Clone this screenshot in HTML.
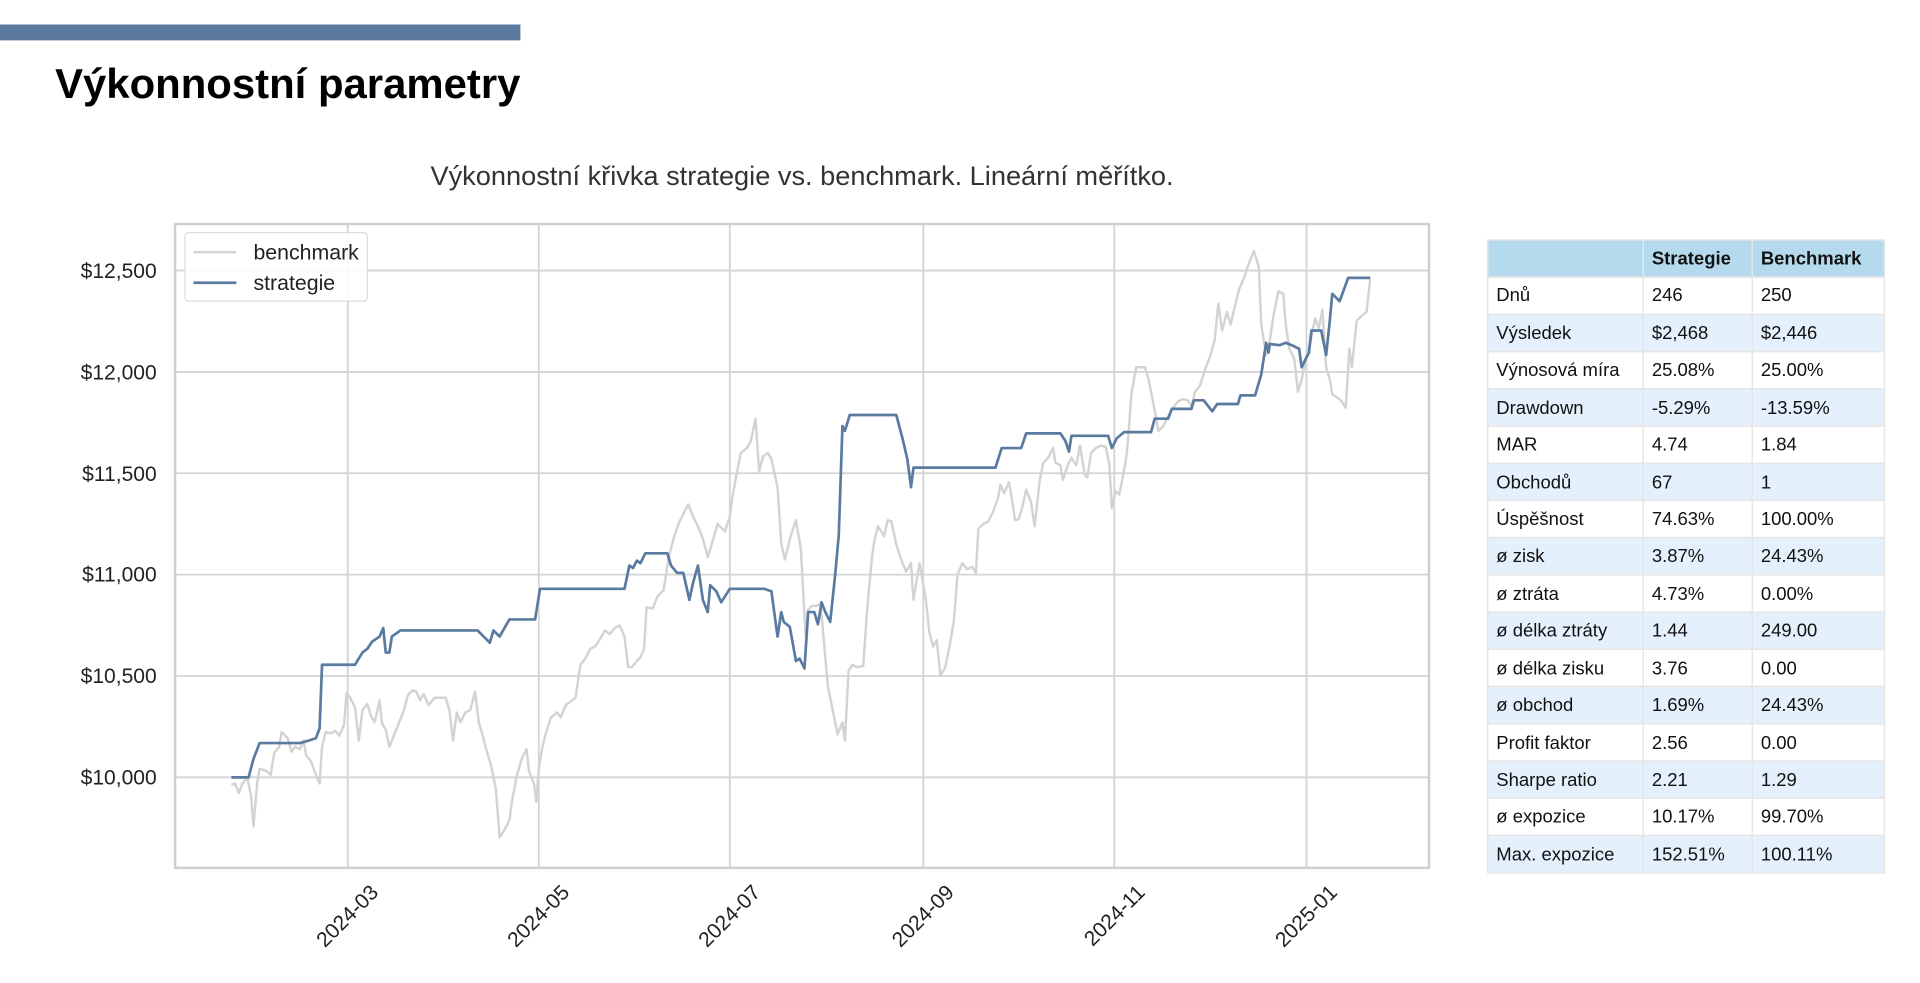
<!DOCTYPE html>
<html><head><meta charset="utf-8"><style>
html,body{margin:0;padding:0;background:#fff;width:1920px;height:983px;overflow:hidden}
svg{display:block}
text{font-family:"Liberation Sans",Arial,sans-serif}
</style></head><body>
<svg width="1920" height="983" viewBox="0 0 1568 803" preserveAspectRatio="none" xmlns="http://www.w3.org/2000/svg">
<rect x="0" y="20" width="425" height="13" fill="#5b7a9d"/>
<text x="45" y="80" font-size="34.2" font-weight="bold" fill="#000">Výkonnostní parametry</text>
<text x="655" y="151" font-size="22.2" fill="#333" text-anchor="middle">Výkonnostní křivka strategie vs. benchmark. Lineární měřítko.</text>
<g stroke="#d4d4d4" stroke-width="1.5">
<line x1="143" x2="1167" y1="221" y2="221"/><line x1="143" x2="1167" y1="303.8" y2="303.8"/><line x1="143" x2="1167" y1="386.6" y2="386.6"/><line x1="143" x2="1167" y1="469.4" y2="469.4"/><line x1="143" x2="1167" y1="552.2" y2="552.2"/><line x1="143" x2="1167" y1="635" y2="635"/>
<line y1="183" y2="709" x1="284" x2="284"/><line y1="183" y2="709" x1="440" x2="440"/><line y1="183" y2="709" x1="596" x2="596"/><line y1="183" y2="709" x1="754" x2="754"/><line y1="183" y2="709" x1="910" x2="910"/><line y1="183" y2="709" x1="1067" x2="1067"/>
</g>
<rect x="143" y="183" width="1024" height="526" fill="none" stroke="#cfcfcf" stroke-width="2"/>
<g font-size="17.2" fill="#222" text-anchor="end">
<text x="128" y="227">$12,500</text><text x="128" y="310">$12,000</text><text x="128" y="393">$11,500</text><text x="128" y="475">$11,000</text><text x="128" y="558">$10,500</text><text x="128" y="641">$10,000</text>
</g>
<g font-size="17.2" fill="#222" text-anchor="end">
<text transform="translate(310,730) rotate(-45)">2024-03</text>
<text transform="translate(466,730) rotate(-45)">2024-05</text>
<text transform="translate(622,730) rotate(-45)">2024-07</text>
<text transform="translate(780,730) rotate(-45)">2024-09</text>
<text transform="translate(936,730) rotate(-45)">2024-11</text>
<text transform="translate(1093,730) rotate(-45)">2025-01</text>
</g>
<polyline fill="none" stroke="#d3d3d3" stroke-width="2" stroke-linejoin="round" points="189,641 192,640 195,648 198,640 202,635 205,650 207,675 210,640 212,628 218,630 221,633 224,615 228,610 230,598 235,603 238,614 241,610 245,612 248,605 250,617 254,622 258,633 261,640 263,610 266,598 270,599 274,597 277,601 281,592 283,566 286,570 290,578 293,605 296,580 300,575 303,585 306,590 310,572 312,591 315,596 318,610 322,600 326,590 330,580 333,568 337,564 340,565 343,572 346,567 350,576 355,570 360,570 364,570 367,580 370,605 373,582 376,590 380,582 384,580 388,565 391,590 394,600 397,612 401,625 405,645 408,684 412,678 416,670 418,655 422,634 426,620 430,612 432,630 436,640 438,655 440,628 443,610 446,598 450,586 455,582 458,586 462,576 466,573 470,570 474,543 478,538 482,530 486,528 490,522 494,515 498,518 502,513 506,511 510,520 513,545 516,545 520,540 523,537 526,530 528,496 533,497 537,487 542,482 546,456 550,440 554,428 558,420 562,412 566,422 570,430 574,440 578,455 582,442 586,428 592,434 596,422 598,407 601,390 605,370 610,366 613,361 617,342 620,385 623,373 627,370 630,375 635,398 638,444 641,457 646,437 650,425 654,448 658,520 660,498 663,495 667,495 670,493 673,525 676,560 680,580 684,600 688,590 690,605 693,548 696,543 700,545 705,544 708,500 712,456 714,442 717,430 722,438 725,425 728,426 732,445 737,460 740,467 744,460 746,490 751,460 756,489 759,517 762,528 765,523 768,552 772,545 776,525 779,507 782,469 786,460 790,465 794,463 797,468 799,432 803,428 807,426 811,418 815,407 817,396 820,403 824,394 826,405 829,425 832,424 835,414 838,400 842,410 845,430 849,393 852,378 856,374 860,366 862,378 866,380 868,392 872,380 875,374 879,380 882,364 886,388 888,390 891,370 895,366 899,364 903,365 906,380 908,415 911,401 914,404 917,390 920,372 922,350 924,321 928,300 935,300 938,310 942,330 946,352 950,348 954,340 958,333 962,328 966,326 970,327 973,332 976,320 980,315 984,302 988,292 992,278 995,248 998,270 1002,255 1005,265 1009,248 1012,236 1016,227 1020,215 1024,205 1028,218 1030,265 1034,290 1037,278 1040,258 1044,238 1048,240 1050,265 1053,285 1057,293 1060,320 1063,310 1067,290 1070,280 1074,260 1077,268 1080,253 1083,300 1086,310 1088,322 1091,324 1095,327 1099,333 1102,285 1104,300 1108,262 1112,258 1116,255 1119,228"/>
<polyline fill="none" stroke="#5a7aa0" stroke-width="2.2" stroke-linejoin="round" points="189,635 203,635 207,620 212,607 245,607 252,605 258,603 261,595 263,543 290,543 296,533 300,530 304,524 310,520 313,513 315,533 318,533 320,520 327,515 390,515 397,522 400,525 403,515 408,520 416,506 437,506 441,481 510,481 514,462 517,464 520,458 523,460 527,452 545,452 548,462 553,468 558,468 563,490 566,476 570,462 574,490 578,500 580,478 585,483 589,492 596,481 624,481 630,483 635,520 638,500 640,508 645,512 650,540 653,538 657,546 660,500 665,500 668,510 671,492 674,500 678,508 682,470 685,437 688,348 690,352 694,339 732,339 737,358 741,375 744,398 746,382 813,382 818,366 834,366 838,354 866,354 870,360 873,369 875,356 905,356 908,366 912,358 918,353 940,353 943,342 954,342 957,334 973,334 975,327 983,327 990,336 994,330 1011,330 1013,323 1025,323 1030,306 1034,280 1036,288 1037,281 1045,282 1050,280 1055,282 1061,285 1063,300 1066,294 1069,288 1071,270 1079,270 1083,290 1086,262 1088,240 1094,246 1097,238 1101,227 1119,227"/>
<rect x="151" y="190" width="149" height="56" rx="3" fill="#fff" fill-opacity="0.85" stroke="#dcdcdc" stroke-width="1"/>
<line x1="158" x2="193" y1="206" y2="206" stroke="#d3d3d3" stroke-width="2"/>
<line x1="158" x2="193" y1="231" y2="231" stroke="#5a7aa0" stroke-width="2.2"/>
<text x="207" y="212" font-size="17.4" fill="#222">benchmark</text>
<text x="207" y="237" font-size="17.4" fill="#222">strategie</text>
<g font-size="15.1" fill="#111">
<rect x="1215" y="196" width="324" height="30.4" fill="#b5daee"/>
<rect x="1215" y="256.8" width="324" height="30.4" fill="#e4f0fb"/>
<rect x="1215" y="317.6" width="324" height="30.4" fill="#e4f0fb"/>
<rect x="1215" y="378.4" width="324" height="30.4" fill="#e4f0fb"/>
<rect x="1215" y="439.2" width="324" height="30.4" fill="#e4f0fb"/>
<rect x="1215" y="500" width="324" height="30.4" fill="#e4f0fb"/>
<rect x="1215" y="560.8" width="324" height="30.4" fill="#e4f0fb"/>
<rect x="1215" y="621.6" width="324" height="30.4" fill="#e4f0fb"/>
<rect x="1215" y="682.4" width="324" height="30.4" fill="#e4f0fb"/>
<g stroke="#e6e6e6" stroke-width="1.2">
<line x1="1342" x2="1342" y1="196" y2="713"/><line x1="1431" x2="1431" y1="196" y2="713"/>
<line x1="1215" x2="1539" y1="226.4" y2="226.4"/><line x1="1215" x2="1539" y1="256.8" y2="256.8"/><line x1="1215" x2="1539" y1="287.2" y2="287.2"/><line x1="1215" x2="1539" y1="317.6" y2="317.6"/><line x1="1215" x2="1539" y1="348" y2="348"/><line x1="1215" x2="1539" y1="378.4" y2="378.4"/><line x1="1215" x2="1539" y1="408.8" y2="408.8"/><line x1="1215" x2="1539" y1="439.2" y2="439.2"/><line x1="1215" x2="1539" y1="469.6" y2="469.6"/><line x1="1215" x2="1539" y1="500" y2="500"/><line x1="1215" x2="1539" y1="530.4" y2="530.4"/><line x1="1215" x2="1539" y1="560.8" y2="560.8"/><line x1="1215" x2="1539" y1="591.2" y2="591.2"/><line x1="1215" x2="1539" y1="621.6" y2="621.6"/><line x1="1215" x2="1539" y1="652" y2="652"/><line x1="1215" x2="1539" y1="682.4" y2="682.4"/>
<rect x="1215" y="196" width="324" height="517" fill="none"/>
</g>
<text x="1349" y="216" font-weight="bold">Strategie</text><text x="1438" y="216" font-weight="bold">Benchmark</text>
<text x="1222" y="246">Dnů</text><text x="1349" y="246">246</text><text x="1438" y="246">250</text>
<text x="1222" y="277">Výsledek</text><text x="1349" y="277">$2,468</text><text x="1438" y="277">$2,446</text>
<text x="1222" y="307">Výnosová míra</text><text x="1349" y="307">25.08%</text><text x="1438" y="307">25.00%</text>
<text x="1222" y="338">Drawdown</text><text x="1349" y="338">-5.29%</text><text x="1438" y="338">-13.59%</text>
<text x="1222" y="368">MAR</text><text x="1349" y="368">4.74</text><text x="1438" y="368">1.84</text>
<text x="1222" y="399">Obchodů</text><text x="1349" y="399">67</text><text x="1438" y="399">1</text>
<text x="1222" y="429">Úspěšnost</text><text x="1349" y="429">74.63%</text><text x="1438" y="429">100.00%</text>
<text x="1222" y="459">ø zisk</text><text x="1349" y="459">3.87%</text><text x="1438" y="459">24.43%</text>
<text x="1222" y="490">ø ztráta</text><text x="1349" y="490">4.73%</text><text x="1438" y="490">0.00%</text>
<text x="1222" y="520">ø délka ztráty</text><text x="1349" y="520">1.44</text><text x="1438" y="520">249.00</text>
<text x="1222" y="551">ø délka zisku</text><text x="1349" y="551">3.76</text><text x="1438" y="551">0.00</text>
<text x="1222" y="581">ø obchod</text><text x="1349" y="581">1.69%</text><text x="1438" y="581">24.43%</text>
<text x="1222" y="612">Profit faktor</text><text x="1349" y="612">2.56</text><text x="1438" y="612">0.00</text>
<text x="1222" y="642">Sharpe ratio</text><text x="1349" y="642">2.21</text><text x="1438" y="642">1.29</text>
<text x="1222" y="672">ø expozice</text><text x="1349" y="672">10.17%</text><text x="1438" y="672">99.70%</text>
<text x="1222" y="703">Max. expozice</text><text x="1349" y="703">152.51%</text><text x="1438" y="703">100.11%</text>
</g>
</svg>
</body></html>
